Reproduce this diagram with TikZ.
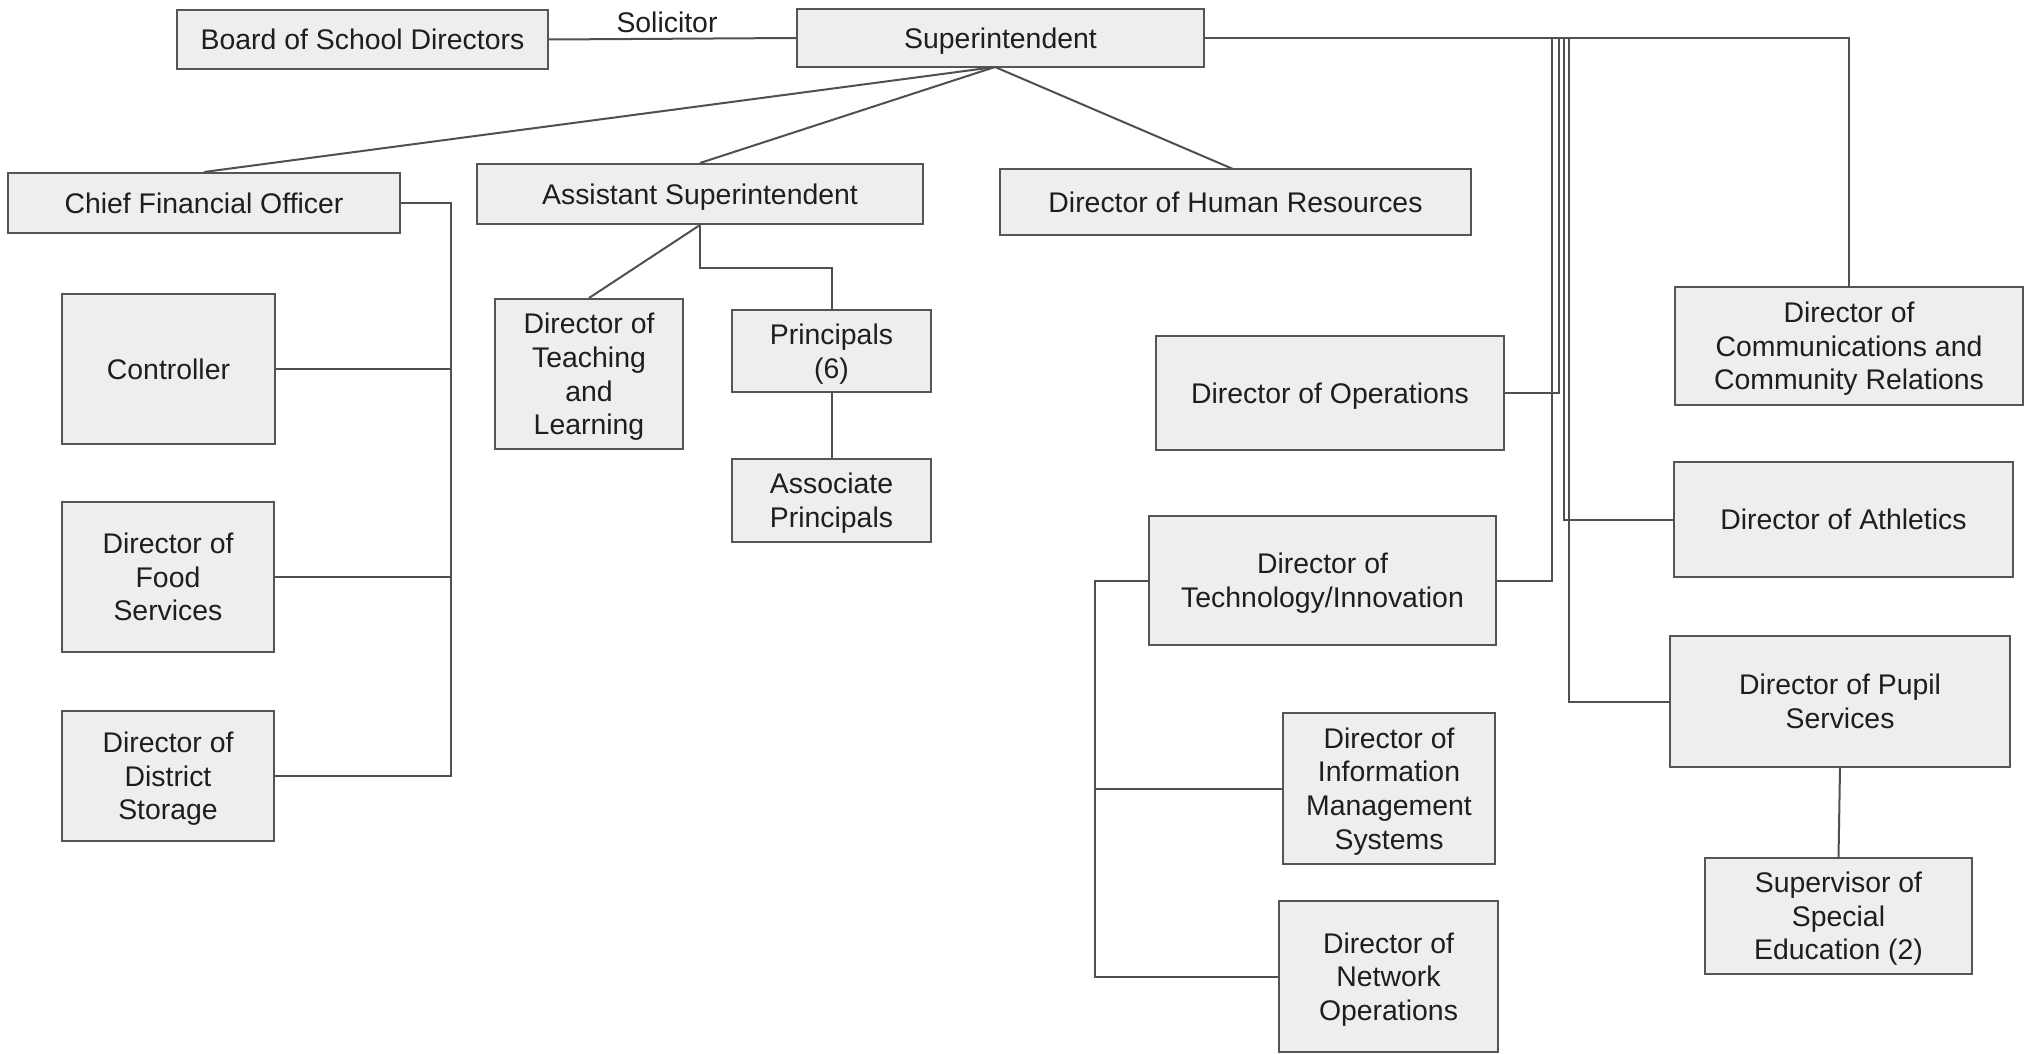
\documentclass[tikz,border=0pt]{standalone}
\usepackage{fontspec}
\setmainfont{Liberation Sans}
\definecolor{boxfill}{HTML}{EEEEEE}
\definecolor{boxline}{HTML}{555555}
\definecolor{lncol}{HTML}{505050}
\definecolor{txt}{HTML}{1E1E1E}
\begin{document}
\begin{tikzpicture}[x=1pt,y=-1pt,
  box/.style={draw=boxline, fill=boxfill, line width=2pt, align=center, inner sep=0pt,
    text depth=0pt, font=\fontsize{28.4}{33.6}\selectfont, text=txt},
  conn/.style={draw=lncol, line width=2pt}]
\useasboundingbox[fill=white] (0,0) rectangle (2028,1054);
% nodes
\node[box, minimum width=371pt, minimum height=59pt] (board) at (362.5,39.5) {Board of School Directors};
\node[box, minimum width=407pt, minimum height=58pt] (super) at (1000.5,38) {Superintendent};
\node[box, minimum width=392pt, minimum height=60pt] (cfo) at (204,203) {Chief Financial Officer};
\node[box, minimum width=446pt, minimum height=60pt] (asst) at (700,194) {Assistant Superintendent};
\node[box, minimum width=471pt, minimum height=66pt] (hr) at (1235.5,202) {Director of Human Resources};
\node[box, minimum width=213pt, minimum height=150pt] (ctrl) at (168.5,369) {Controller};
\node[box, minimum width=212pt, minimum height=150pt] (food) at (168,577) {Director of\\Food\\Services};
\node[box, minimum width=212pt, minimum height=130pt] (stor) at (168,776) {Director of\\District\\Storage};
\node[box, minimum width=188pt, minimum height=150pt] (teach) at (589,374) {Director of\\Teaching\\and\\Learning};
\node[box, minimum width=199pt, minimum height=82pt] (princ) at (831.5,351) {Principals\\(6)};
\node[box, minimum width=199pt, minimum height=83pt] (assoc) at (831.5,500.5) {Associate\\Principals};
\node[box, minimum width=348pt, minimum height=114pt] (ops) at (1330,393) {Director of Operations};
\node[box, minimum width=347pt, minimum height=129pt] (tech) at (1322.5,580.5) {Director of\\Technology/Innovation};
\node[box, minimum width=212pt, minimum height=151pt] (ims) at (1389,788.5) {Director of\\Information\\Management\\Systems};
\node[box, minimum width=219pt, minimum height=151pt] (net) at (1388.5,976.5) {Director of\\Network\\Operations};
\node[box, minimum width=348pt, minimum height=118pt] (comm) at (1849,346) {Director of\\Communications and\\Community Relations};
\node[box, minimum width=339pt, minimum height=115pt] (ath) at (1843.5,519.5) {Director of Athletics};
\node[box, minimum width=340pt, minimum height=131pt] (pupil) at (1840,701.5) {Director of Pupil\\Services};
\node[box, minimum width=267pt, minimum height=116pt] (spec) at (1838.5,916) {Supervisor of\\Special\\Education (2)};
\node[font=\fontsize{28.4}{33.6}\selectfont, text=txt, inner sep=0pt] (sol) at (667,22) {Solicitor};
% coordinates
\coordinate (apex) at (995,67);
\coordinate (cfob) at (451,203);
\coordinate (asstb) at (700,268);
\coordinate (techb) at (1095,580.5);
\coordinate (vt) at (1552,39);
\coordinate (vo) at (1559,39);
\coordinate (va) at (1564,39);
\coordinate (vp) at (1569,39);
\coordinate (hrtop) at (1233,169);
% connectors
\draw[conn] (board.east) -- (super.west);
\draw[conn] (apex) -- (cfo.north);
\draw[conn] (apex) -- (asst.north);
\draw[conn] (apex) -- (hrtop);
\draw[conn] (cfo.east) -- (cfob) -- (cfob |- stor.east) -- (stor.east);
\draw[conn] (ctrl.east) -- (cfob |- ctrl.east);
\draw[conn] (food.east) -- (cfob |- food.east);
\draw[conn] (asst.south) -- (teach.north);
\draw[conn] (asst.south) -- (asstb) -- (asstb -| princ.north) -- (princ.north);
\draw[conn] (princ.south) -- (assoc.north);
\draw[conn] (super.east) -- (comm.north |- super.east) -- (comm.north);
\draw[conn] (vt) -- (vt |- tech.east) -- (tech.east);
\draw[conn] (vo) -- (vo |- ops.east) -- (ops.east);
\draw[conn] (va) -- (va |- ath.west) -- (ath.west);
\draw[conn] (vp) -- (vp |- pupil.west) -- (pupil.west);
\draw[conn] (pupil.south) -- (spec.north);
\draw[conn] (tech.west) -- (techb) -- (techb |- net.west) -- (net.west);
\draw[conn] (ims.west) -- (techb |- ims.west);
\end{tikzpicture}
\end{document}
